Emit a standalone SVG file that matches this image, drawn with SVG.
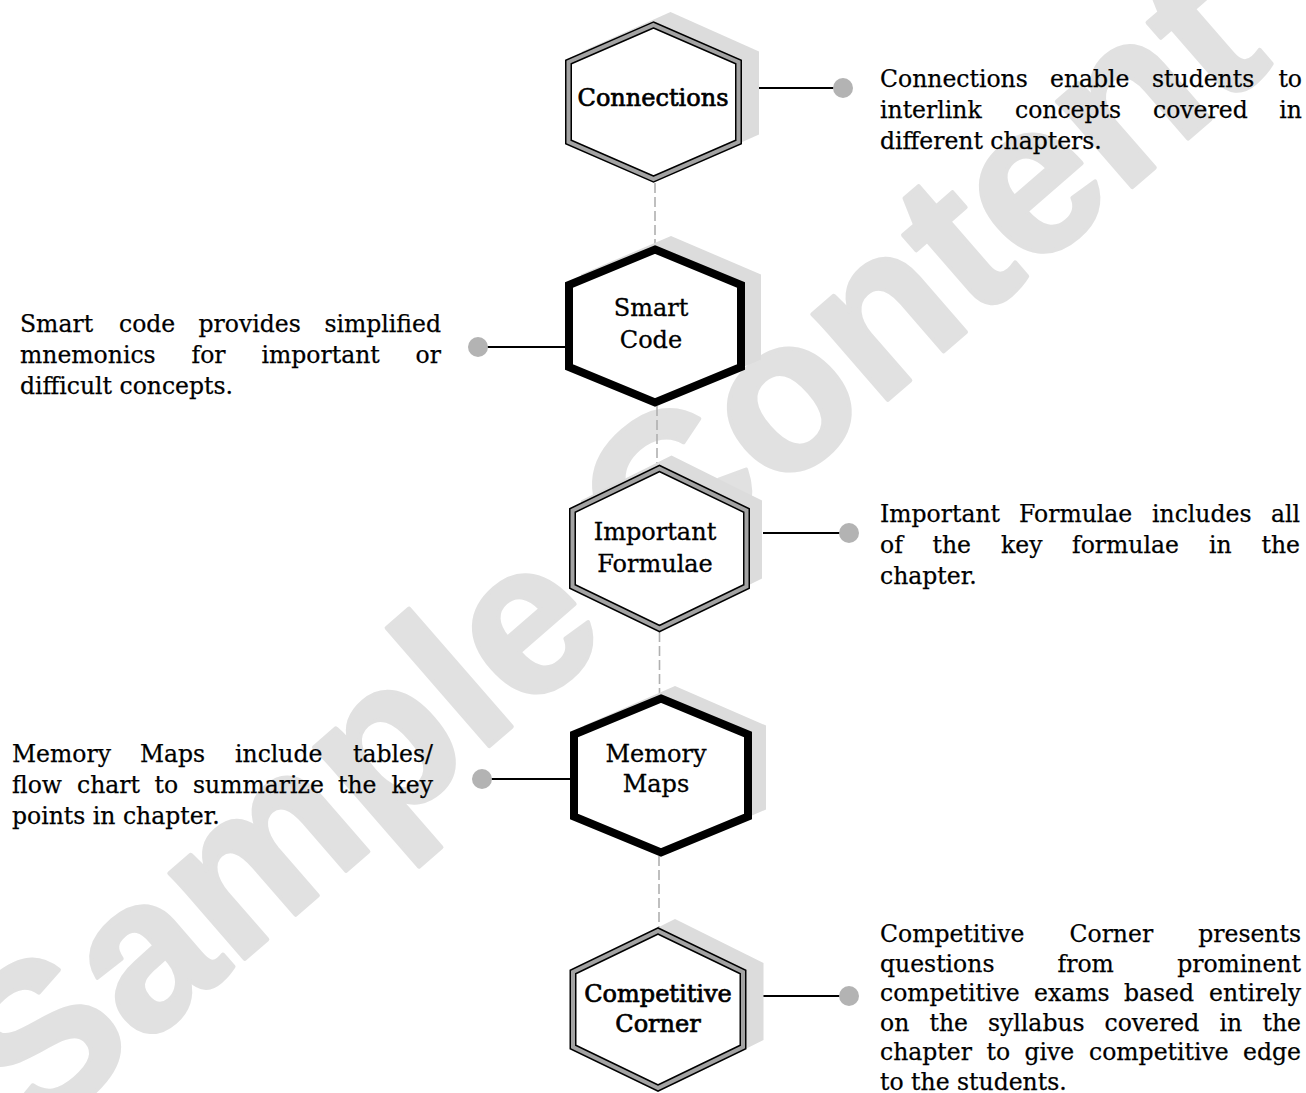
<svg xmlns="http://www.w3.org/2000/svg" width="1306" height="1093" viewBox="0 0 1306 1093">
<style>
.wm{font-family:"Liberation Sans",Arial,sans-serif;font-weight:bold;fill:#e1e1e1;stroke:#e1e1e1;stroke-width:4;stroke-linejoin:round}
.sh{fill:#dcdcdc;stroke:none}
.dbo{fill:#fff;stroke:#000;stroke-width:7;stroke-linejoin:miter}
.dbi{fill:none;stroke:#a3a3a3;stroke-width:4;stroke-linejoin:miter}
.thk{fill:#fff;stroke:#000;stroke-width:8;stroke-linejoin:miter}
.lbl{font-family:"DejaVu Serif","Liberation Serif",serif;font-size:24px;fill:#000;stroke:#000;stroke-width:0.3;text-anchor:middle}
.bld{stroke-width:0.7}
.body{font-family:"DejaVu Serif","Liberation Serif",serif;font-size:23.5px;fill:#000;stroke:#000;stroke-width:0.25}
.end{text-anchor:end}
.ln{stroke:#000;stroke-width:2}
.dot{fill:#b3b3b3}
.dash{stroke:#b0b0b0;stroke-width:1.6;stroke-dasharray:10 4;fill:none}
</style>
<g id="watermark">
<text class="wm" font-size="216" transform="translate(34,1142) rotate(-41)" x="0" y="0">Sample Content</text>
</g>
<g id="connectors">
<line class="dash" x1="655" y1="183" x2="655" y2="246"/>
<line class="dash" x1="657" y1="406" x2="657" y2="466"/>
<line class="dash" x1="659.5" y1="632" x2="659.5" y2="695"/>
<line class="dash" x1="659" y1="856" x2="659" y2="928"/>
<line class="ln" x1="759" y1="88" x2="843" y2="88"/>
<circle class="dot" cx="843" cy="88" r="10"/>
<line class="ln" x1="478" y1="347" x2="567" y2="347"/>
<circle class="dot" cx="478" cy="347" r="10"/>
<line class="ln" x1="763" y1="533" x2="849" y2="533"/>
<circle class="dot" cx="849" cy="533" r="10"/>
<line class="ln" x1="482" y1="779" x2="570" y2="779"/>
<circle class="dot" cx="482" cy="779" r="10"/>
<line class="ln" x1="763" y1="996" x2="849" y2="996"/>
<circle class="dot" cx="849" cy="996" r="10"/>
</g>
<g id="node-connections">
<polygon class="sh" points="670.5,12 759,51.5 759,134.5 670.5,174 582,134.5 582,51.5"/>
<polygon class="dbo" points="653.5,25 738.5,62 738.5,142 653.5,179 568.5,142 568.5,62"/>
<polygon class="dbi" points="653.5,25 738.5,62 738.5,142 653.5,179 568.5,142 568.5,62"/>
<text class="lbl bld" x="653" y="106">Connections</text>
</g>
<g id="node-smart-code">
<polygon class="sh" points="671,236 761,274.5 761,359.5 671,398 581,359.5 581,274.5"/>
<polygon class="thk" points="655,249.5 741,285 741,367 655,402.5 569,367 569,285"/>
<text class="lbl" x="651" y="316">Smart</text>
<text class="lbl" x="651" y="348">Code</text>
</g>
<g id="node-important-formulae">
<polygon class="sh" points="671.5,455.5 762,500.5 762,578.5 671.5,623.5 581,578.5 581,500.5"/>
<polygon class="dbo" points="659.5,468.5 746.5,510.5 746.5,586.5 659.5,628.5 572.5,586.5 572.5,510.5"/>
<polygon class="dbi" points="659.5,468.5 746.5,510.5 746.5,586.5 659.5,628.5 572.5,586.5 572.5,510.5"/>
<text class="lbl" x="655" y="540">Important</text>
<text class="lbl" x="655" y="572">Formulae</text>
</g>
<g id="node-memory-maps">
<polygon class="sh" points="675,686 766,725.5 766,809.5 675,849 584,809.5 584,725.5"/>
<polygon class="thk" points="661,698.5 748,734.5 748,816.5 661,852.5 574,816.5 574,734.5"/>
<text class="lbl" x="656" y="762">Memory</text>
<text class="lbl" x="656" y="792">Maps</text>
</g>
<g id="node-competitive-corner">
<polygon class="sh" points="675,919 763.5,963 763.5,1040 675,1084 586.5,1040 586.5,963"/>
<polygon class="dbo" points="658,931 743,972 743,1047 658,1088 573,1047 573,972"/>
<polygon class="dbi" points="658,931 743,972 743,1047 658,1088 573,1047 573,972"/>
<text class="lbl bld" x="658" y="1002">Competitive</text>
<text class="lbl bld" x="658" y="1032">Corner</text>
</g>
<g id="desc-connections">
<text class="body" y="87"><tspan x="880">Connections</tspan><tspan x="1050">enable</tspan><tspan x="1152">students</tspan></text>
<text class="body end" x="1302" y="87">to</text>
<text class="body" y="118"><tspan x="880">interlink</tspan><tspan x="1015">concepts</tspan><tspan x="1153">covered</tspan></text>
<text class="body end" x="1302" y="118">in</text>
<text class="body" x="880" y="149">different chapters.</text>
</g>
<g id="desc-smart-code">
<text class="body" y="332"><tspan x="20">Smart</tspan><tspan x="119">code</tspan><tspan x="198.5">provides</tspan></text>
<text class="body end" x="441" y="332">simplified</text>
<text class="body" y="363"><tspan x="20">mnemonics</tspan><tspan x="191.5">for</tspan><tspan x="261.5">important</tspan></text>
<text class="body end" x="441" y="363">or</text>
<text class="body" x="20" y="394">difficult concepts.</text>
</g>
<g id="desc-important-formulae">
<text class="body" y="522"><tspan x="880">Important</tspan><tspan x="1019">Formulae</tspan><tspan x="1152">includes</tspan></text>
<text class="body end" x="1300" y="522">all</text>
<text class="body" y="553"><tspan x="880">of</tspan><tspan x="932.5">the</tspan><tspan x="1001">key</tspan><tspan x="1072">formulae</tspan><tspan x="1209">in</tspan></text>
<text class="body end" x="1300" y="553">the</text>
<text class="body" x="880" y="584">chapter.</text>
</g>
<g id="desc-memory-maps">
<text class="body" y="762"><tspan x="12">Memory</tspan><tspan x="140">Maps</tspan><tspan x="235">include</tspan></text>
<text class="body end" x="433" y="762">tables/</text>
<text class="body" y="793"><tspan x="12">flow</tspan><tspan x="77">chart</tspan><tspan x="154.5">to</tspan><tspan x="193">summarize</tspan><tspan x="338">the</tspan></text>
<text class="body end" x="433" y="793">key</text>
<text class="body" x="12" y="824">points in chapter.</text>
</g>
<g id="desc-competitive-corner">
<text class="body" y="942"><tspan x="880">Competitive</tspan><tspan x="1069.5">Corner</tspan></text>
<text class="body end" x="1301" y="942">presents</text>
<text class="body" y="971.5"><tspan x="880">questions</tspan><tspan x="1057.5">from</tspan></text>
<text class="body end" x="1301" y="971.5">prominent</text>
<text class="body" y="1001"><tspan x="880">competitive</tspan><tspan x="1034">exams</tspan><tspan x="1124">based</tspan></text>
<text class="body end" x="1301" y="1001">entirely</text>
<text class="body" y="1030.5"><tspan x="880">on</tspan><tspan x="929.5">the</tspan><tspan x="988">syllabus</tspan><tspan x="1104.5">covered</tspan><tspan x="1219.5">in</tspan></text>
<text class="body end" x="1301" y="1030.5">the</text>
<text class="body" y="1060"><tspan x="880">chapter</tspan><tspan x="986.5">to</tspan><tspan x="1024.5">give</tspan><tspan x="1089">competitive</tspan></text>
<text class="body end" x="1301" y="1060">edge</text>
<text class="body" x="880" y="1089.5">to the students.</text>
</g>
</svg>
